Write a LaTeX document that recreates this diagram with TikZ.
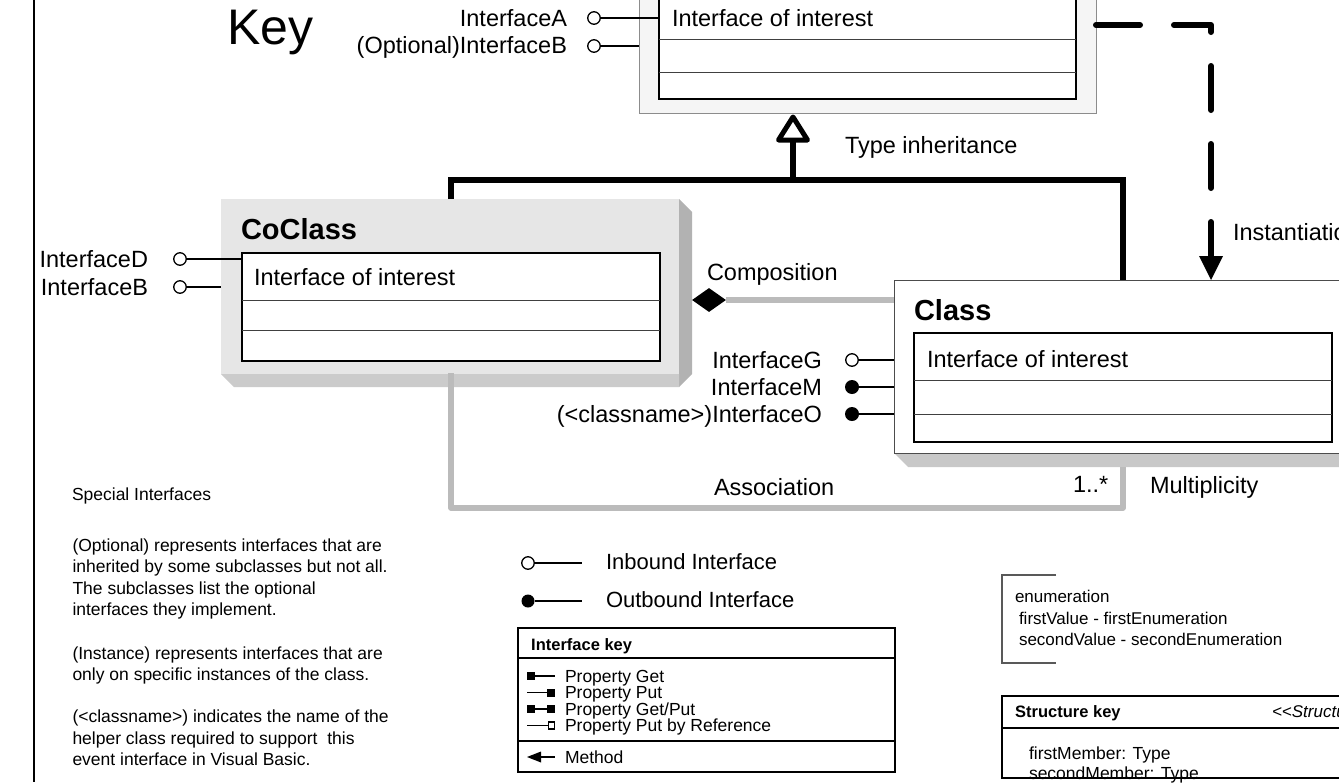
\documentclass[tikz,border=0pt]{standalone}
\usepackage{fontspec}
\setmainfont{Liberation Sans}
\usetikzlibrary{shapes.geometric}
\definecolor{assoc}{HTML}{BBBBBB}
\definecolor{cofront}{HTML}{E6E6E6}
\definecolor{coside}{HTML}{B2B2B2}
\definecolor{cobottom}{HTML}{CBCBCB}
\definecolor{shadowgray}{HTML}{C8C8C8}
\definecolor{topfill}{HTML}{F5F5F5}
\newcommand{\fLab}{\fontsize{23.5}{27}\selectfont}
\newcommand{\fBold}{\fontsize{29}{33}\selectfont\bfseries}
\newcommand{\fSmall}{\fontsize{17.5}{21}\selectfont}
\newcommand{\fKeyB}{\fontsize{16.5}{19}\selectfont\bfseries}
\newcommand{\fBig}{\fontsize{50}{56}\selectfont}
\tikzset{
  lbl/.style={inner sep=0pt, outer sep=0pt, font=\fLab},
  lw/.style={lbl, anchor=base west},
  le/.style={lbl, anchor=base east},
  sw/.style={inner sep=0pt, outer sep=0pt, font=\fSmall, anchor=base west},
  boxnw/.style={inner sep=0pt, outer sep=0pt, anchor=north west},
  inbox/.style={boxnw, draw=black, line width=1.8pt, fill=white},
  rowline/.style={draw=black!75, line width=1pt},
  lollo/.style={circle, draw=black, line width=1.3pt, fill=white, minimum size=12.5pt, inner sep=0pt},
  dotend/.style={circle, fill=black, minimum size=14pt, inner sep=0pt},
  stub/.style={line width=1.5pt},
  inh/.style={line width=6pt, line join=miter},
  grayconn/.style={draw=assoc, line width=5.5pt, line join=round},
  inst/.style={line width=6pt, dash pattern=on 44pt off 34pt, line cap=round, line join=round},
}
\begin{document}
\begin{tikzpicture}[x=1pt,y=-1pt]
\useasboundingbox (0,0) rectangle (1339,782);
\clip (0,0) rectangle (1339,782);

% left rule
\coordinate (rt) at (34,0);
\coordinate (rb) at (34,782);
\draw[line width=1.2pt] (rt) -- (rb);

% Key title
\node[lw, font=\fBig] (key) at (227,44) {Key};

% ---------- top box ----------
\node[boxnw, minimum width=457pt, minimum height=133pt, fill=topfill, draw=black!45, line width=1pt] (topo) at (639,-20) {};
\node[inbox, minimum width=417pt, minimum height=119pt] (topi) at (659,-20) {};
\draw[rowline] (659,39) -- (1076,39);
\draw[rowline] (659,72) -- (1076,72);
\node[lw] (toptxt) at (672,26) {Interface of interest};
\node[lollo] (ca) at (594,18) {};
\node[lollo] (cb) at (594,46) {};
\draw[stub] (ca) -- (ca -| topi.west);
\draw[stub] (cb) -- (cb -| topo.west);
\node[le] (ta) at (567,26) {InterfaceA};
\node[le] (tb) at (567,53) {(Optional)InterfaceB};

% ---------- CoClass ----------
\fill[coside] (679,199) -- (692,212) -- (692,374) -- (679,387) -- cycle;
\fill[cobottom] (221,374) -- (679,374) -- (679,387) -- (234,387) -- cycle;
\node[boxnw, minimum width=458pt, minimum height=175pt, fill=cofront] (coco) at (221,199) {};
\node[inbox, minimum width=418pt, minimum height=108pt] (coi) at (242,253) {};
\draw[rowline] (242,300) -- (660,300);
\draw[rowline] (242,330) -- (660,330);
\node[lw, font=\fBold] (coname) at (241,239) {CoClass};
\node[lw] (cotxt) at (254,285) {Interface of interest};
\node[lollo] (cd) at (180,259) {};
\node[lollo] (ce) at (180,287) {};
\draw[stub] (cd) -- (cd -| coi.west);
\draw[stub] (ce) -- (ce -| coco.west);
\node[le] (td) at (148,267) {InterfaceD};
\node[le] (te) at (148,295) {InterfaceB};

% ---------- Class ----------
\fill[shadowgray] (894,453) -- (908,467) -- (1360,467) -- (1360,453) -- cycle;
\node[boxnw, minimum width=466pt, minimum height=173pt, fill=white, draw=black!70, line width=1pt] (cls) at (894,280) {};
\node[inbox, minimum width=418pt, minimum height=109pt] (cli) at (914,333) {};
\draw[rowline] (914,380) -- (1332,380);
\draw[rowline] (914,414) -- (1332,414);
\node[lw, font=\fBold] (clname) at (914,320) {Class};
\node[lw] (cltxt) at (927,367) {Interface of interest};
\node[lollo] (cg) at (852,360) {};
\node[dotend] (cm) at (852,387) {};
\node[dotend] (co) at (852,414) {};
\draw[stub] (cg) -- (cg -| cls.west);
\draw[stub] (cm) -- (cm -| cls.west);
\draw[stub] (co) -- (co -| cls.west);
\node[le] (tg) at (822,368) {InterfaceG};
\node[le] (tm) at (822,395) {InterfaceM};
\node[le] (to) at (822,422) {({<}classname{>})InterfaceO};

% ---------- type inheritance ----------
\coordinate (tritip) at (793,117);
\coordinate (tribase) at (793,140);
\coordinate (junc) at (793,180);
\coordinate (jl) at (451,180);
\coordinate (jr) at (1123,180);
\draw[inh] (junc) -- (tribase);
\draw[line width=5pt, line join=round, fill=white] (tritip) -- ++(14.5,23) -- ++(-29,0) -- cycle;
\draw[inh] (coco.north -| jl) -- (jl) -- (jr) -- (cls.north -| jr);
\node[lw] (tinh) at (845,153) {Type inheritance};

% ---------- composition ----------
\node[diamond, fill=black, minimum width=34pt, minimum height=24pt, inner sep=0pt] (dia) at (709,300) {};
\draw[grayconn] (dia.east) -- (dia.east -| cls.west);
\node[lw] (comp) at (707,280) {Composition};

% ---------- association ----------
\coordinate (a0) at (451,373);
\coordinate (a1) at (451,508);
\coordinate (a2) at (1123,508);
\coordinate (a3) at (1123,467);
\draw[grayconn] (a0) -- (a1) -- (a2) -- (a3);
\node[lw] (assoc) at (714,495) {Association};
\node[lw] (mult) at (1073,492) {1..*};
\node[lw] (multl) at (1150,493) {Multiplicity};

% ---------- instantiation ----------
\coordinate (i0) at (1096,25);
\coordinate (i1) at (1211,25);
\coordinate (i2) at (1211,258);
\coordinate (ihead) at (1211,280);
\draw[inst] (i0) -- (i1) -- (i2);
\fill (1199,256) -- (1223,256) -- (ihead) -- cycle;
\node[lw] (inst) at (1233,240) {Instantiation};

% ---------- special interfaces text ----------
\node[sw] (sp0) at (72,500) {Special Interfaces};
\node[sw] (sp1) at (72.5,551) {(Optional) represents interfaces that are};
\node[sw] (sp2) at (72.5,572.5) {inherited by some subclasses but not all.};
\node[sw] (sp3) at (72.5,594) {The subclasses list the optional};
\node[sw] (sp4) at (72.5,615.5) {interfaces they implement.};
\node[sw] (sp5) at (72.5,659) {(Instance) represents interfaces that are};
\node[sw] (sp6) at (72.5,680.5) {only on specific instances of the class.};
\node[sw] (sp7) at (72.5,722.5) {({<}classname{>}) indicates the name of the};
\node[sw] (sp8) at (72.5,744) {helper class required to support\ \ this};
\node[sw] (sp9) at (72.5,765.5) {event interface in Visual Basic.};

% ---------- inbound / outbound ----------
\node[lollo] (lin) at (528,563) {};
\coordinate (linend) at (582,563);
\draw[stub] (lin) -- (linend);
\node[lbl, anchor=base west, font=\fontsize{22}{26}\selectfont] (linl) at (606,569) {Inbound Interface};
\node[dotend, minimum size=13pt] (lout) at (528,601) {};
\coordinate (loutend) at (582,601);
\draw[stub] (lout) -- (loutend);
\node[lbl, anchor=base west, font=\fontsize{22}{26}\selectfont] (loutl) at (606,607) {Outbound Interface};

% ---------- interface key ----------
\node[boxnw, draw=black, line width=1.8pt, minimum width=377pt, minimum height=144pt] (ikey) at (518,628) {};
\draw[line width=1.2pt] (518,658) -- (895,658);
\draw[line width=1.2pt] (518,741) -- (895,741);
\node[inner sep=0pt, anchor=base west, font=\fKeyB] (ikeyt) at (531,650) {Interface key};
% property get
\fill (527,672) rectangle (535,680);
\draw[line width=1.3pt] (535,676) -- (555,676);
\node[sw] (pg) at (565,682) {Property Get};
% property put
\draw[line width=1.3pt] (527,692.5) -- (547,692.5);
\fill (547,688.5) rectangle (555,696.5);
\node[sw] (pp) at (565,698.5) {Property Put};
% get/put
\fill (527,705) rectangle (535,713);
\draw[line width=1.3pt] (535,709) -- (547,709);
\fill (547,705) rectangle (555,713);
\node[sw] (pgp) at (565,715) {Property Get/Put};
% put by ref
\draw[line width=1.3pt] (527,725.5) -- (547.6,725.5);
\draw[line width=1.2pt, fill=white] (548.2,722) rectangle (554.4,729);
\node[sw] (pr) at (565,731.5) {Property Put by Reference};
% method
\draw[line width=1.5pt] (539,757) -- (555,757);
\fill (527,757) -- (541,751.5) -- (541,762.5) -- cycle;
\node[sw] (pm) at (565,763) {Method};

% ---------- enumeration ----------
\draw[draw=black!65, line width=1.3pt] (1056,575) -- (1002,575) -- (1002,663) -- (1056,663);
\node[sw, font=\fontsize{17}{20}\selectfont] (en0) at (1015,602) {enumeration};
\node[sw, font=\fontsize{17}{20}\selectfont] (en1) at (1019,624) {firstValue - firstEnumeration};
\node[sw, font=\fontsize{17}{20}\selectfont] (en2) at (1019,645) {secondValue - secondEnumeration};

% ---------- structure key ----------
\node[boxnw, draw=black, line width=1.8pt, minimum width=360pt, minimum height=82pt] (skey) at (1002,696) {};
\draw[line width=1.2pt] (1002,728) -- (1362,728);
\node[inner sep=0pt, anchor=base west, font=\fKeyB] (skeyt) at (1015,717) {Structure key};
\node[sw, font=\fontsize{17}{20}\selectfont\itshape] (skeys) at (1272,717) {{<}{<}Structure{>}{>}};
\node[sw] (sm1) at (1029,759) {firstMember: Type};
\node[sw] (sm2) at (1029,779) {secondMember: Type};
\end{tikzpicture}
\end{document}
